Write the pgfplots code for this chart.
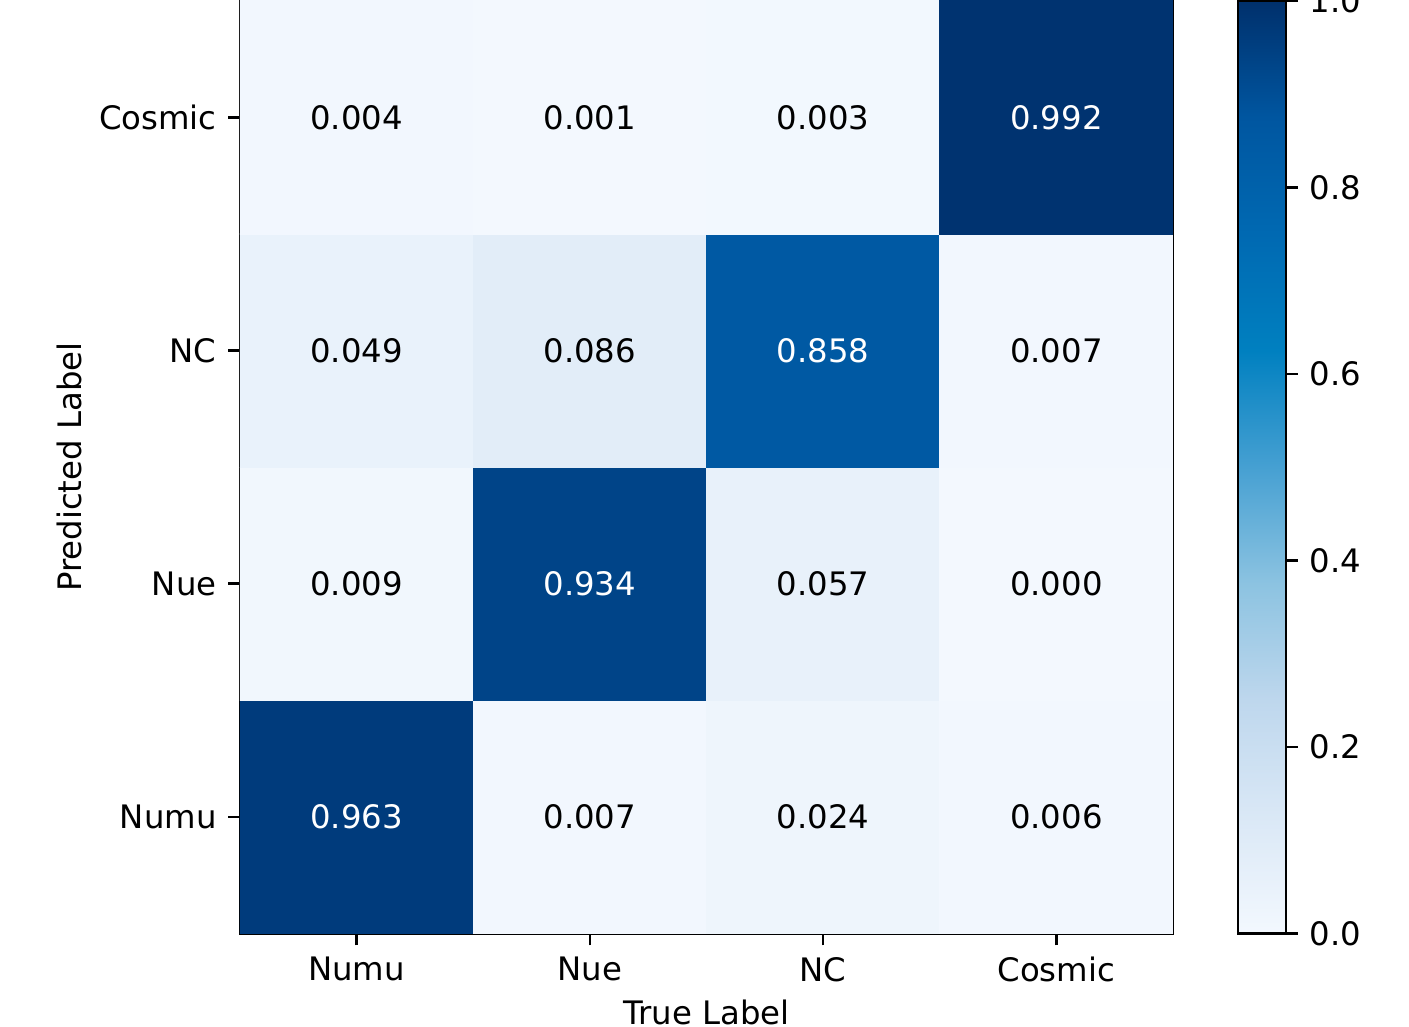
\documentclass[border=0pt]{standalone}
\usepackage{pgfplots}
\pgfplotsset{compat=1.18}
\usepackage{fontspec}
\setmainfont{DejaVu Sans}
\pgfplotsset{/pgf/number format/assume math mode=true}
\begin{document}
\begin{tikzpicture}
\pgfplotsset{colormap={refblues}{rgb255(0)=(243,248,254) rgb255(1)=(218,232,246) rgb255(2)=(190,215,237) rgb255(3)=(140,195,225) rgb255(4)=(70,160,210) rgb255(5)=(0,128,192) rgb255(6)=(0,105,178) rgb255(7)=(0,86,160) rgb255(8)=(0,48,108)}}
\begin{axis}[
  at={(0,0)}, anchor=south west,
  scale only axis, width=279.9pt, height=279.9pt,
  xmin=-0.5, xmax=3.5, ymin=-0.5, ymax=3.5,
  xtick={0,1,2,3}, ytick={0,1,2,3},
  xticklabels={Numu,Nue,NC,Cosmic},
  yticklabels={Numu,Nue,NC,Cosmic},
  tick pos=left, tick align=outside,
  major tick length=3.5pt,
  every tick/.style={black, line width=0.8pt},
  axis line style={line width=0.8pt},
  font=\fontsize{9.7}{11}\selectfont,
  xlabel={True Label}, ylabel={Predicted Label},
  xlabel style={at={(axis description cs:0.5,-0.0975)}, anchor=base, inner sep=0pt},
  ylabel style={at={(axis description cs:-0.1694,0.5)}, anchor=base, inner sep=0pt},
  colormap name=refblues, point meta min=0, point meta max=1,
  colorbar,
  colorbar shift/.style={xshift=0pt},
  colorbar style={
    at={(parent axis.north east)}, anchor=north west, xshift=19.5pt,
    scale only axis,
    width=14.4pt, height=279.9pt,
    ytick={0,0.2,0.4,0.6,0.8,1.0},
    yticklabel style={/pgf/number format/.cd, fixed, fixed zerofill, precision=1},
    ytick pos=right, yticklabel pos=right,
    tick align=outside, major tick length=3.5pt,
    every tick/.style={black, line width=0.8pt},
    axis line style={line width=0.8pt},
    font=\fontsize{9.7}{11}\selectfont,
  },
]
\addplot[matrix plot*, mesh/cols=4, point meta=explicit] table[meta=v] {
x y v
0 0 0.963
1 0 0.007
2 0 0.024
3 0 0.006
0 1 0.009
1 1 0.934
2 1 0.057
3 1 0.000
0 2 0.049
1 2 0.086
2 2 0.858
3 2 0.007
0 3 0.004
1 3 0.001
2 3 0.003
3 3 0.992
};
\addplot[only marks, mark=none, point meta=explicit symbolic, nodes near coords, nodes near coords align=center, every node near coord/.append style={black, font=\fontsize{9.7}{11}\selectfont}] table[meta=t] {
x y t
1 0 0.007
2 0 0.024
3 0 0.006
0 1 0.009
2 1 0.057
3 1 0.000
0 2 0.049
1 2 0.086
3 2 0.007
0 3 0.004
1 3 0.001
2 3 0.003
};
\addplot[only marks, mark=none, point meta=explicit symbolic, nodes near coords, nodes near coords align=center, every node near coord/.append style={white, font=\fontsize{9.7}{11}\selectfont}] table[meta=t] {
x y t
0 0 0.963
1 1 0.934
2 2 0.858
3 3 0.992
};
\end{axis}
\pgfresetboundingbox
\path[use as bounding box] (-72pt,-27.8pt) rectangle (350.7pt,280.1pt);
\end{tikzpicture}
\end{document}
